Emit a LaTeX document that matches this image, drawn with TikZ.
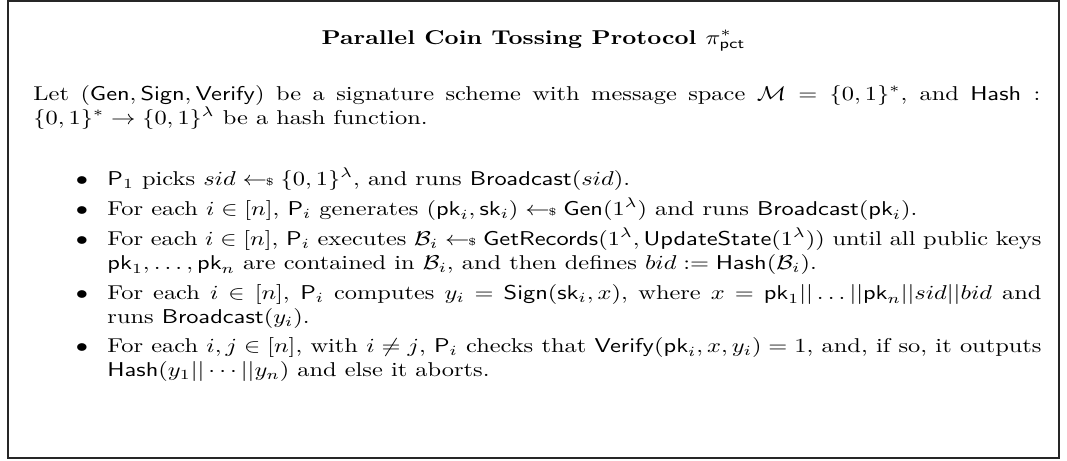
\documentclass[tikz,border=0pt]{standalone}
\usepackage{amsmath,amssymb}
\newcommand{\alg}[1]{\mathsf{#1}}
\newcommand{\pkey}{{\mathsf{pk}}}
\newcommand{\skey}{\mathsf{sk}}
\newcommand{\smpl}{\mathrel{\leftarrow\!\!{\scriptscriptstyle\$}}}
\tikzset{
  wide/.style={xscale=1.22, transform shape},
  frame/.style={draw=black!85, line width=0.8pt},
  title/.style={wide, anchor=base, inner sep=0pt, font=\bfseries},
  para/.style={wide, anchor=base west, inner sep=0pt, text width=412.7pt, align=justify},
  itemtext/.style={wide, anchor=base west, inner sep=0pt, text width=382.8pt, align=justify},
  bul/.style={wide, anchor=base, inner sep=0pt}
}
\begin{document}
\begin{tikzpicture}[x=0.5pt, y=-0.5pt]
\useasboundingbox (0,0) rectangle (1067,461);
\draw[frame] (8,1) rectangle (1059,458);
\node[title] (ttl) at (533.5,44) {Parallel Coin Tossing Protocol $\pi^*_{\alg{pct}}$};
\node[para] (intro) at (33,100) {Let $(\alg{Gen},\alg{Sign},\alg{Verify})$ be a signature scheme with message space $\mathcal{M}=\{0,1\}^*$, and $\alg{Hash}:$\linebreak $\{0,1\}^*\to\{0,1\}^\lambda$ be a hash function.};
% protocol steps
\node[bul] (b1) at (82,185) {$\bullet$};
\node[itemtext] (s1) at (107,185) {$\alg{P}_1$ picks $sid\smpl\{0,1\}^\lambda$, and runs $\alg{Broadcast}(sid)$.};
\node[bul] (b2) at (82,215) {$\bullet$};
\node[itemtext] (s2) at (107,215) {For each $i\in[n]$, $\alg{P}_i$ generates $(\pkey_i,\skey_i)\smpl\alg{Gen}(1^\lambda)$ and runs $\alg{Broadcast}(\pkey_i)$.};
\node[bul] (b3) at (82,245) {$\bullet$};
\node[itemtext] (s3) at (107,245) {For each $i\in[n]$, $\alg{P}_i$ executes $\mathcal{B}_i\smpl\alg{GetRecords}(1^\lambda,\alg{UpdateState}(1^\lambda))$ until all public keys\linebreak $\pkey_1,\ldots,\pkey_n$ are contained in $\mathcal{B}_i$, and then defines $bid:=\alg{Hash}(\mathcal{B}_i)$.};
\node[bul] (b4) at (82,299) {$\bullet$};
\node[itemtext] (s4) at (107,299) {For each $i\in[n]$, $\alg{P}_i$ computes $y_i=\alg{Sign}(\skey_i,x)$, where $x=\pkey_1||\ldots||\pkey_n||sid||bid$ and\linebreak runs $\alg{Broadcast}(y_i)$.};
\node[bul] (b5) at (82,352) {$\bullet$};
\node[itemtext] (s5) at (107,352) {For each $i,j\in[n]$, with $i\neq j$, $\alg{P}_i$ checks that $\alg{Verify}(\pkey_i,x,y_i)=1$, and, if so, it outputs\linebreak $\alg{Hash}(y_1||\cdots||y_n)$ and else it aborts.};
\end{tikzpicture}
\end{document}
